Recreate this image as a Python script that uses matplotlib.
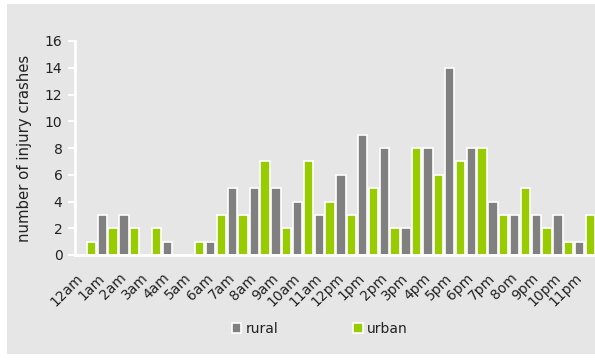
import matplotlib.pyplot as plt
import matplotlib.patches as patches
import matplotlib.transforms as mtransforms
import numpy as np

# injury crashes by hour of day
hours = ['12am', '1am', '2am', '3am', '4am', '5am', '6am', '7am', '8am', '9am',
         '10am', '11am', '12pm', '1pm', '2pm', '3pm', '4pm', '5pm', '6pm', '7pm',
         '8om', '9pm', '10pm', '11pm']
rural = [0, 3, 3, 0, 1, 0, 1, 5, 5, 5, 4, 3, 6, 9, 8, 2, 8, 14, 8, 4, 3, 3, 3, 1]
urban = [1, 2, 2, 2, 0, 1, 3, 3, 7, 2, 7, 4, 3, 5, 2, 8, 6, 7, 8, 3, 5, 2, 1, 3]

bg = '#e6e6e6'
grey = '#808080'
green = '#99cc00'
txt = '#222222'

fig = plt.figure(figsize=(5.95, 3.61), dpi=100)
fig.patch.set_facecolor('white')
# grey panel behind everything
fig.patches.append(patches.Rectangle((7 / 595, 7 / 361), 1, 1 - 11 / 361,
                                     transform=fig.transFigure, facecolor=bg,
                                     edgecolor='none', zorder=-10))

ax = fig.add_axes([75 / 595, 1 - 255 / 361, 521 / 595, 214 / 361])
ax.set_facecolor(bg)

x = np.arange(len(hours))
w = 0.43
ax.bar(x - 0.245, rural, w, color=grey, edgecolor='white', linewidth=1.2, label='rural')
ax.bar(x + 0.245, urban, w, color=green, edgecolor='white', linewidth=1.2, label='urban')

ax.set_xlim(-0.5, len(hours) - 0.5)
ax.set_ylim(0, 16)
ax.set_yticks(range(0, 17, 2))
ax.set_xticks(x)
ax.set_xticklabels(hours, rotation=45, ha='right', va='center',
                   rotation_mode='anchor', fontsize=10, color=txt)
ax.tick_params(axis='x', length=0, pad=15)
shift = mtransforms.ScaledTranslation(-5 / 100, 0, fig.dpi_scale_trans)
for lab in ax.get_xticklabels():
    lab.set_transform(lab.get_transform() + shift)
ax.tick_params(axis='y', length=5, width=1.5, color='white', labelsize=10,
               labelcolor=txt, pad=4)

for s in ['top', 'right']:
    ax.spines[s].set_visible(False)
for s in ['left', 'bottom']:
    ax.spines[s].set_color('white')
    ax.spines[s].set_linewidth(2)

ax.set_ylabel('number of injury crashes', fontsize=10.7, color=txt, labelpad=9)

leg = ax.legend(loc='center', bbox_to_anchor=(0.47, -0.345), ncol=2, frameon=False,
                fontsize=10, handlelength=0.7, handleheight=0.7, handletextpad=0.3,
                columnspacing=5.4)
for t in leg.get_texts():
    t.set_color(txt)

fig.savefig('out.png', dpi=100, facecolor=fig.get_facecolor())
